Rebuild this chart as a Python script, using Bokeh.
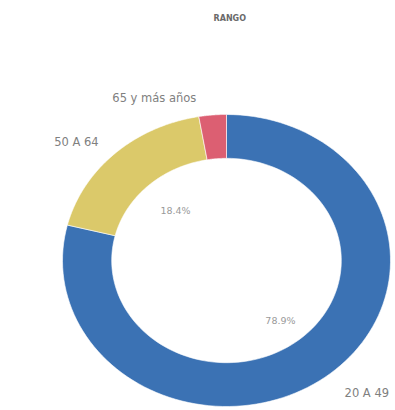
import numpy as np
from bokeh.plotting import figure
from bokeh.models import Range1d, ColumnDataSource
from bokeh.core.properties import value
from bokeh.embed import file_html
from bokeh.resources import INLINE

# ---- data ----
categories = ["20 A 49", "50 A 64", "65 y más años"]
shares = [78.9, 18.4, 2.7]
pct_labels = ["78.9%", "18.4%", ""]
colors = ["#3b72b4", "#dbc96a", "#dc5f72"]

# ---- layout (pixel scale of ellipse) ----
W, H = 395, 410
RX, RY = 164, 146          # pixels per data unit in x / y
CX, CY = 226, 260          # donut centre in figure pixels (from left / top)
INNER = 0.70

p = figure(width=W, height=H, output_backend="svg", toolbar_location=None,
           x_range=Range1d(-CX / RX, (W - CX) / RX),
           y_range=Range1d(-(H - CY) / RY, CY / RY),
           min_border=0)
p.axis.visible = False
p.grid.visible = False
p.outline_line_color = None
p.background_fill_color = "white"
p.border_fill_color = "white"

total = sum(shares)
xs, ys = [], []
start = 0.0
for s in shares:
    a0 = start / total * 2 * np.pi
    a1 = (start + s) / total * 2 * np.pi
    t = np.linspace(a0, a1, 120)
    ox, oy = np.sin(t), np.cos(t)
    ix, iy = INNER * np.sin(t[::-1]), INNER * np.cos(t[::-1])
    xs.append(list(np.concatenate([ox, ix])))
    ys.append(list(np.concatenate([oy, iy])))
    start += s

src = ColumnDataSource(dict(xs=xs, ys=ys, color=colors, cat=categories))
p.patches("xs", "ys", source=src, fill_color="color", line_color="white", line_width=0.6)

FONT = value("DejaVu Sans")
# category labels (positions are layout)
cat_pos = {"20 A 49": (0.72, -0.91, "left"),
           "50 A 64": (-0.915, 0.815, "center"),
           "65 y más años": (-0.44, 1.116, "center")}
for c in categories:
    x, y, al = cat_pos[c]
    p.text(x=[x], y=[y], text=[c], text_font=FONT, text_font_size="11.5px",
           text_color="#808080", text_align=al, text_baseline="middle")

pct_pos = [(0.329, -0.411), (-0.311, 0.342), (0, 0)]
for lab, (x, y) in zip(pct_labels, pct_pos):
    if lab:
        p.text(x=[x], y=[y], text=[lab], text_font=FONT, text_font_size="9.5px",
               text_color="#9a9a9a", text_align="center", text_baseline="middle")

p.text(x=[0.02], y=[1.657], text=["RANGO"], text_font=FONT, text_font_size="8px",
       text_font_style="bold", text_color="#6a6a6a", text_align="center", text_baseline="middle")

open("out.html", "w").write(file_html(p, INLINE))
